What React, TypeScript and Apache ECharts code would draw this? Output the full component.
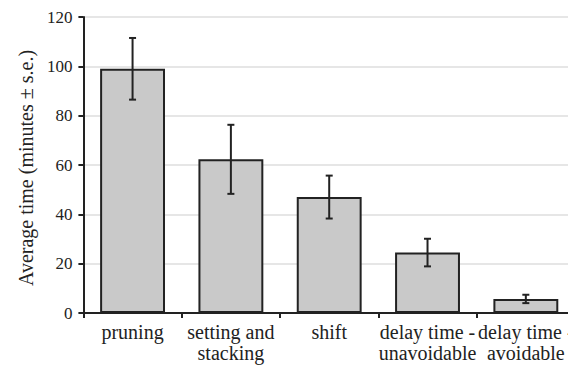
import React, { useEffect, useRef } from "react";
import * as echarts from "echarts";

const categories = [
  "pruning",
  "setting and\nstacking",
  "shift",
  "delay time -\nunavoidable",
  "delay time -\navoidable",
];
const meanMinutes = [99, 62.3, 47, 24.5, 5.7];
const stdErr = [12.5, 14, 8.7, 5.6, 1.7];
const yTicks = { min: 0, max: 120, interval: 20 };

const FONT = "Liberation Serif";
const INK = "#222222";

export default function App() {
  const ref = useRef<HTMLDivElement>(null);

  useEffect(() => {
    if (!ref.current) return;
    const chart = echarts.init(ref.current, undefined, { renderer: "svg" });

    const errData = meanMinutes.map((m, i) => [i, m - stdErr[i], m + stdErr[i]]);

    chart.setOption({
      animation: false,
      textStyle: { fontFamily: FONT, color: INK },
      grid: { left: 64, right: 1, top: 9, bottom: 52 },
      xAxis: {
        type: "category",
        data: categories,
        axisLine: { lineStyle: { color: INK, width: 2 } },
        axisTick: { show: true, length: 5, lineStyle: { color: INK, width: 2 } },
        axisLabel: {
          color: INK,
          fontFamily: FONT,
          fontSize: 20,
          lineHeight: 21,
          margin: 8,
          interval: 0,
        },
      },
      yAxis: {
        type: "value",
        min: yTicks.min,
        max: yTicks.max,
        interval: yTicks.interval,
        name: "Average time (minutes ± s.e.)",
        nameLocation: "middle",
        nameGap: 43,
        nameRotate: 90,
        nameTextStyle: { color: INK, fontFamily: FONT, fontSize: 20, padding: [0, 6, 0, 0] },
        axisLine: { show: true, lineStyle: { color: INK, width: 2 } },
        axisTick: { show: true, length: 5, lineStyle: { color: INK, width: 2 } },
        axisLabel: { color: INK, fontFamily: FONT, fontSize: 17, margin: 11 },
        splitLine: { lineStyle: { color: "#dedede", width: 1.5 } },
      },
      series: [
        {
          type: "bar",
          data: meanMinutes,
          barWidth: "66%",
          itemStyle: { color: "#c9c9c9", borderColor: INK, borderWidth: 2 },
        },
        {
          type: "custom",
          data: errData,
          z: 10,
          renderItem: (params: any, api: any) => {
            const x = api.value(0);
            const lo = api.coord([x, api.value(1)]);
            const hi = api.coord([x, api.value(2)]);
            const cap = 3.5;
            const style = { stroke: INK, lineWidth: 2 };
            return {
              type: "group",
              children: [
                { type: "line", shape: { x1: lo[0], y1: lo[1], x2: hi[0], y2: hi[1] }, style },
                { type: "line", shape: { x1: hi[0] - cap, y1: hi[1], x2: hi[0] + cap, y2: hi[1] }, style },
                { type: "line", shape: { x1: lo[0] - cap, y1: lo[1], x2: lo[0] + cap, y2: lo[1] }, style },
              ],
            };
          },
        },
      ],
    });

    return () => chart.dispose();
  }, []);

  return <div ref={ref} style={{ width: 568, height: 357 }} />;
}
